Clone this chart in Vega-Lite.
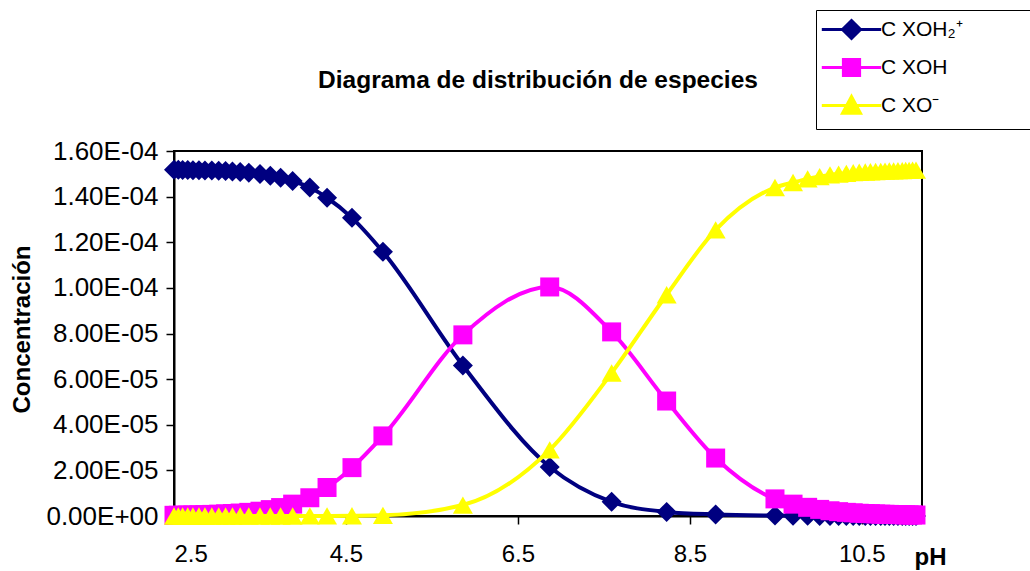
{
  "$schema": "https://vega.github.io/schema/vega-lite/v6.json",
  "width": 748,
  "height": 365,
  "autosize": {"type": "none"},
  "padding": {"left": 174, "top": 151, "right": 108, "bottom": 55},
  "background": "white",
  "config": {"font": "Liberation Sans", "view": {"stroke": "black", "strokeWidth": 2}},
  "title": {"text": "Diagrama de distribución de especies", "fontSize": 24.5, "fontWeight": "bold", "color": "black", "anchor": "middle", "dx": -10, "offset": -84, "font": "Liberation Sans"},
  "data": {"values": [
    {"pH": 2.50, "XOH2": 1.518e-4, "XOH": 3.0e-7, "XO": 0},
    {"pH": 2.55, "XOH2": 1.518e-4, "XOH": 3.2e-7, "XO": 0},
    {"pH": 2.60, "XOH2": 1.517e-4, "XOH": 3.5e-7, "XO": 0},
    {"pH": 2.66, "XOH2": 1.517e-4, "XOH": 4.0e-7, "XO": 0},
    {"pH": 2.72, "XOH2": 1.516e-4, "XOH": 4.5e-7, "XO": 0},
    {"pH": 2.79, "XOH2": 1.516e-4, "XOH": 5.0e-7, "XO": 0},
    {"pH": 2.86, "XOH2": 1.515e-4, "XOH": 6.0e-7, "XO": 0},
    {"pH": 2.94, "XOH2": 1.514e-4, "XOH": 7.0e-7, "XO": 0},
    {"pH": 3.02, "XOH2": 1.513e-4, "XOH": 8.0e-7, "XO": 0},
    {"pH": 3.10, "XOH2": 1.512e-4, "XOH": 9.5e-7, "XO": 0},
    {"pH": 3.18, "XOH2": 1.510e-4, "XOH": 1.1e-6, "XO": 0},
    {"pH": 3.27, "XOH2": 1.508e-4, "XOH": 1.3e-6, "XO": 0},
    {"pH": 3.37, "XOH2": 1.505e-4, "XOH": 1.6e-6, "XO": 0},
    {"pH": 3.50, "XOH2": 1.499e-4, "XOH": 2.1e-6, "XO": 0},
    {"pH": 3.62, "XOH2": 1.492e-4, "XOH": 2.8e-6, "XO": 0},
    {"pH": 3.74, "XOH2": 1.483e-4, "XOH": 3.7e-6, "XO": 0},
    {"pH": 3.88, "XOH2": 1.468e-4, "XOH": 5.2e-6, "XO": 1e-8},
    {"pH": 4.08, "XOH2": 1.440e-4, "XOH": 8.0e-6, "XO": 2e-8},
    {"pH": 4.28, "XOH2": 1.395e-4, "XOH": 1.25e-5, "XO": 4e-8},
    {"pH": 4.57, "XOH2": 1.307e-4, "XOH": 2.12e-5, "XO": 1e-7},
    {"pH": 4.93, "XOH2": 1.158e-4, "XOH": 3.51e-5, "XO": 3e-7},
    {"pH": 5.86, "XOH2": 6.60e-5, "XOH": 7.94e-5, "XO": 4.8e-6},
    {"pH": 6.87, "XOH2": 2.15e-5, "XOH": 1.004e-4, "XO": 2.90e-5},
    {"pH": 7.59, "XOH2": 6.2e-6, "XOH": 8.07e-5, "XO": 6.27e-5},
    {"pH": 8.23, "XOH2": 1.8e-6, "XOH": 5.04e-5, "XO": 9.70e-5},
    {"pH": 8.80, "XOH2": 7e-7, "XOH": 2.54e-5, "XO": 1.254e-4},
    {"pH": 9.49, "XOH2": 2e-7, "XOH": 7.5e-6, "XO": 1.440e-4},
    {"pH": 9.70, "XOH2": 1.2e-7, "XOH": 5.2e-6, "XO": 1.462e-4},
    {"pH": 9.87, "XOH2": 8e-8, "XOH": 3.8e-6, "XO": 1.478e-4},
    {"pH": 10.01, "XOH2": 5e-8, "XOH": 2.9e-6, "XO": 1.488e-4},
    {"pH": 10.13, "XOH2": 4e-8, "XOH": 2.3e-6, "XO": 1.495e-4},
    {"pH": 10.23, "XOH2": 3e-8, "XOH": 1.9e-6, "XO": 1.499e-4},
    {"pH": 10.32, "XOH2": 2e-8, "XOH": 1.6e-6, "XO": 1.502e-4},
    {"pH": 10.40, "XOH2": 2e-8, "XOH": 1.4e-6, "XO": 1.505e-4},
    {"pH": 10.47, "XOH2": 1e-8, "XOH": 1.2e-6, "XO": 1.507e-4},
    {"pH": 10.54, "XOH2": 1e-8, "XOH": 1.1e-6, "XO": 1.508e-4},
    {"pH": 10.60, "XOH2": 1e-8, "XOH": 1.0e-6, "XO": 1.509e-4},
    {"pH": 10.66, "XOH2": 1e-8, "XOH": 9.0e-7, "XO": 1.510e-4},
    {"pH": 10.72, "XOH2": 0, "XOH": 8.0e-7, "XO": 1.511e-4},
    {"pH": 10.77, "XOH2": 0, "XOH": 7.5e-7, "XO": 1.512e-4},
    {"pH": 10.82, "XOH2": 0, "XOH": 7.0e-7, "XO": 1.513e-4},
    {"pH": 10.87, "XOH2": 0, "XOH": 6.5e-7, "XO": 1.513e-4},
    {"pH": 10.92, "XOH2": 0, "XOH": 6.0e-7, "XO": 1.514e-4},
    {"pH": 10.97, "XOH2": 0, "XOH": 5.5e-7, "XO": 1.514e-4},
    {"pH": 11.01, "XOH2": 0, "XOH": 5.0e-7, "XO": 1.515e-4},
    {"pH": 11.05, "XOH2": 0, "XOH": 4.8e-7, "XO": 1.515e-4},
    {"pH": 11.09, "XOH2": 0, "XOH": 4.5e-7, "XO": 1.516e-4},
    {"pH": 11.13, "XOH2": 0, "XOH": 4.2e-7, "XO": 1.516e-4}
  ]},
  "transform": [{"fold": ["XOH2", "XOH", "XO"], "as": ["especie", "c"]}],
  "encoding": {
    "x": {
      "field": "pH", "type": "quantitative",
      "scale": {"domain": [2.5, 11.2], "nice": false, "zero": false},
      "axis": {
        "values": [2.5, 4.5, 6.5, 8.5, 10.5], "format": ".1f", "grid": false,
        "domainColor": "black", "domainWidth": 2, "tickColor": "black", "tickWidth": 1.5, "tickSize": 8,
        "labelFontSize": 24, "labelColor": "black", "labelPadding": 18, "labelFont": "Liberation Sans",
        "title": "pH", "titleFontSize": 24, "titleFontWeight": "bold", "titleColor": "black", "titleFont": "Liberation Sans",
        "titleX": 756, "titleY": 48, "titleAlign": "center", "titleBaseline": "alphabetic"
      }
    },
    "y": {
      "field": "c", "type": "quantitative",
      "scale": {"domain": [0, 0.00016], "nice": false},
      "axis": {
        "values": [0, 0.00002, 0.00004, 0.00006, 0.00008, 0.0001, 0.00012, 0.00014, 0.00016],
        "labelExpr": "datum.value == 0 ? '0.00E+00' : replace(replace(format(datum.value, '.2e'), 'e-', 'E-0'), 'e+', 'E+0')",
        "grid": false, "domainColor": "black", "domainWidth": 2, "tickColor": "black", "tickWidth": 1.5, "tickSize": 8,
        "labelFontSize": 26, "labelColor": "black", "labelPadding": 8, "labelFont": "Liberation Sans",
        "title": "Concentración", "titleFontSize": 24, "titleFontWeight": "bold", "titleColor": "black", "titleFont": "Liberation Sans",
        "titleX": -152, "titleY": 178, "titleAngle": 270, "titleAlign": "center", "titleBaseline": "middle"
      }
    },
    "color": {
      "field": "especie", "type": "nominal",
      "scale": {"domain": ["XOH2", "XOH", "XO"], "range": ["#000080", "#FF00FF", "#FFFF00"]},
      "legend": {
        "orient": "none", "legendX": 642, "legendY": -141, "title": null,
        "labelExpr": "datum.value == 'XOH2' ? 'C XOH₂⁺\u00a0\u00a0\u00a0\u00a0\u00a0\u00a0\u00a0\u00a0\u00a0\u00a0\u200b' : datum.value == 'XOH' ? 'C XOH' : 'C XO⁻'",
        "labelFontSize": 21, "labelColor": "black", "labelFont": "Liberation Sans", "labelLimit": 400,
        "symbolSize": 324, "symbolOffset": 16, "labelOffset": 19, "rowPadding": 8, "padding": 9,
        "strokeColor": "black", "fillColor": "white", "symbolStrokeWidth": 3,
        "encode": {"symbols": {"update": {
          "shape": {"signal": "datum.value == 'XOH2' ? 'M-3.3,0H3.3M0,-1L1,0L0,1L-1,0Z' : datum.value == 'XOH' ? 'M-3.3,0H3.3M-0.9,-0.9H0.9V0.9H-0.9Z' : 'M-3.3,0H3.3M0,-1L1,0.85H-1Z'"},
          "fill": {"signal": "scale('color', datum.value)"},
          "stroke": {"signal": "scale('color', datum.value)"},
          "strokeWidth": {"value": 3},
          "opacity": {"value": 1}
        }}}
      }
    }
  },
  "layer": [
    {"transform": [{"filter": "datum.especie == 'XOH2'"}],
     "mark": {"type": "line", "interpolate": "monotone", "strokeWidth": 4, "point": {"shape": "diamond", "size": 400, "filled": true, "opacity": 1}}},
    {"transform": [{"filter": "datum.especie == 'XOH'"}],
     "mark": {"type": "line", "interpolate": "monotone", "strokeWidth": 4, "point": {"shape": "square", "size": 361, "filled": true, "opacity": 1}}},
    {"transform": [{"filter": "datum.especie == 'XO'"}],
     "mark": {"type": "line", "interpolate": "monotone", "strokeWidth": 4, "point": {"shape": "triangle-up", "size": 400, "filled": true, "opacity": 1}}}
  ]
}
